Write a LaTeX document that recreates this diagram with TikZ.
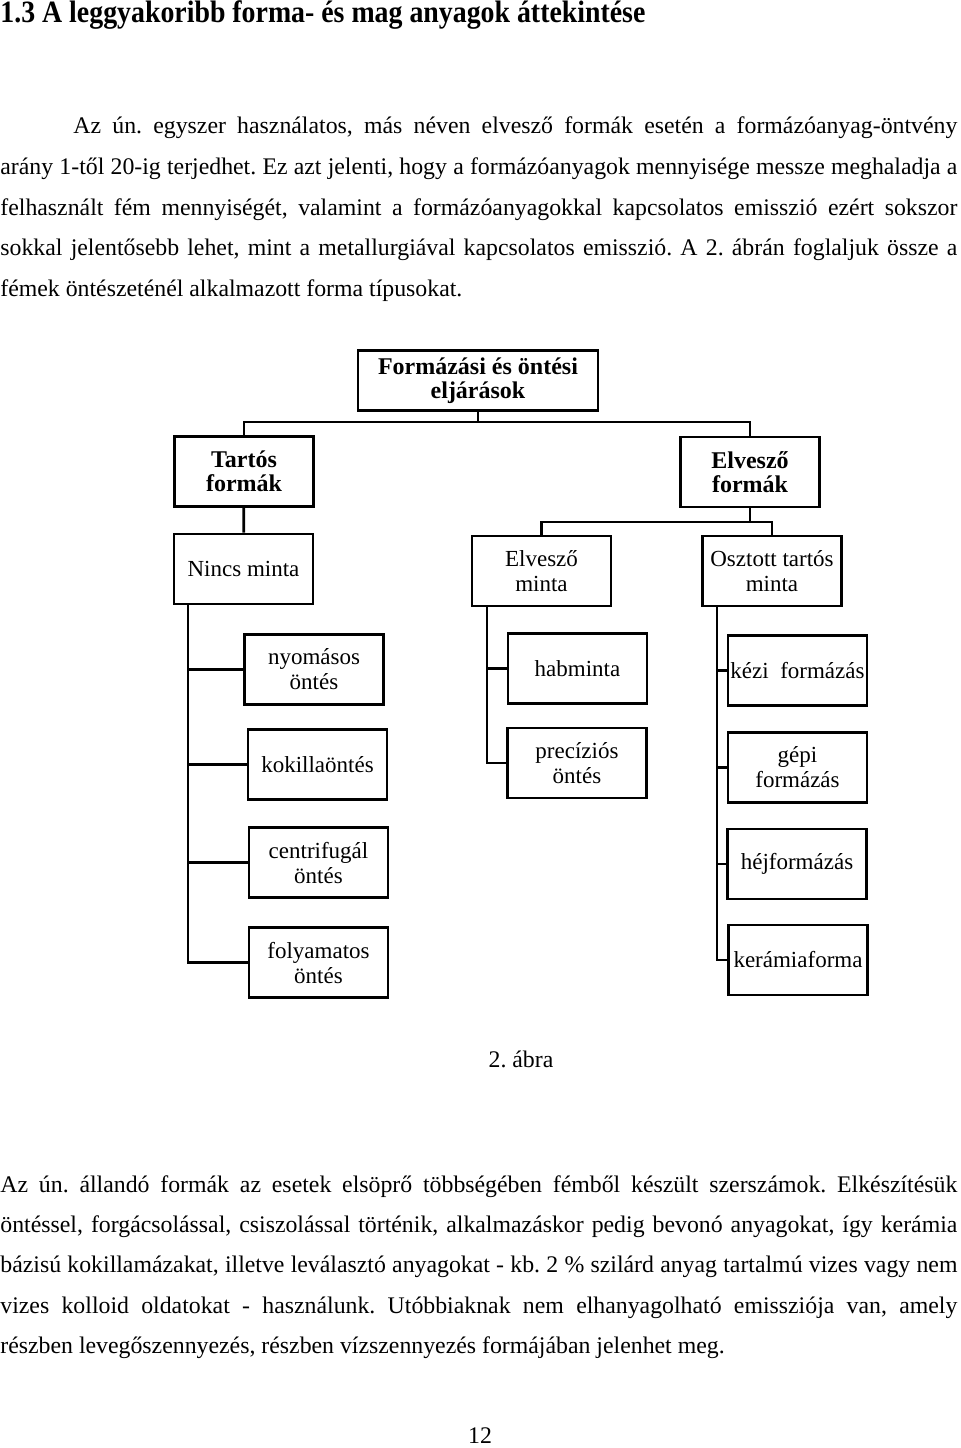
\documentclass[tikz,border=0pt]{standalone}
\usepackage{fontspec}
\setmainfont{Liberation Serif}
\usepackage{graphicx}
\usepackage{tikz}
\usetikzlibrary{positioning}
\frenchspacing
\newcommand{\jline}[2][478.5pt]{\makebox[#1][s]{#2}}

\begin{document}
\begin{tikzpicture}[x=0.5pt, y=-0.5pt,
	every node/.style={font=\fontsize{11.5}{12.5}\selectfont},
	txt/.style={anchor=base west, inner sep=0pt, font=\fontsize{11.9}{15}\selectfont},
	box/.style={draw, line width=1.4pt, align=center, minimum width=69.5pt, minimum height=35pt, inner sep=1pt},
	head/.style={box, font=\fontsize{12}{12}\selectfont\bfseries},
	conn/.style={line width=1.4pt}]
	\useasboundingbox (0,0) rectangle (960,1448);
	% cim es elso bekezdes
	\node[txt, font=\fontsize{15.5}{17}\selectfont\bfseries] (cim) at (0,22) {\resizebox{322.5pt}{\height}{1.3 A leggyakoribb forma- és mag anyagok áttekintése}};
	\node[txt] (p1a) at (73,133) {\jline[442pt]{Az ún. egyszer használatos, más néven elvesző formák esetén a formázóanyag-öntvény}};
	\node[txt] (p1b) at (0,174) {\jline{arány 1-től 20-ig terjedhet. Ez azt jelenti, hogy a formázóanyagok mennyisége messze meghaladja a}};
	\node[txt] (p1c) at (0,215) {\jline{felhasznált fém mennyiségét, valamint a formázóanyagokkal kapcsolatos emisszió ezért sokszor}};
	\node[txt] (p1d) at (0,255) {\jline{sokkal jelentősebb lehet, mint a metallurgiával kapcsolatos emisszió. A 2. ábrán foglaljuk össze a}};
	\node[txt] (p1e) at (0,296) {fémek öntészeténél alkalmazott forma típusokat.};
	% az abra dobozai
	\node[head, minimum width=120pt, minimum height=30pt] (form) at (478,380.5) {Formázási és öntési\\eljárások};
	\node[head] (tartos) at (244,471.5) {Tartós\\formák};
	\node[head] (elvf) at (750,472) {Elvesző\\formák};
	\node[box] (nincs) at (243.5,569) {Nincs minta};
	\node[box] (elvm) at (541.5,571) {Elvesző\\minta};
	\node[box] (oszt) at (772,571) {Osztott tartós\\minta};
	\node[box] (nyom) at (314,669.5) {nyomásos\\öntés};
	\node[box] (kokil) at (317.5,764.5) {kokillaöntés};
	\node[box] (centri) at (318.5,862.5) {centrifugál\\öntés};
	\node[box] (folyam) at (318.5,962.5) {folyamatos\\öntés};
	\node[box] (hab) at (577.5,668.5) {habminta};
	\node[box] (prec) at (577,763) {precíziós\\öntés};
	\node[box] (kezi) at (797.5,670.5) {kézi\ \ formázás};
	\node[box] (gepi) at (797.5,767.5) {gépi\\formázás};
	\node[box] (hej) at (797,864) {héjformázás};
	\node[box] (keram) at (798,960) {kerámiaforma};
	% osszekotok
	\coordinate (sp1) at (478,422);
	\coordinate (sp2) at (750,522);
	\coordinate (trA) at (188,0);
	\coordinate (trB) at (487,0);
	\coordinate (trC) at (717,0);
	\draw[conn] (form) -- (sp1);
	\draw[conn] (sp1) -| (tartos);
	\draw[conn] (sp1) -| (elvf);
	\draw[conn] (tartos) -- (nincs);
	\draw[conn] (elvf) -- (sp2);
	\draw[conn] (sp2) -| (elvm);
	\draw[conn] (sp2) -| (oszt);
	\draw[conn] (trA |- nincs.south) |- (folyam.west);
	\foreach \b in {nyom,kokil,centri}
		\draw[conn] (\b.west) -- (trA |- \b.west);
	\draw[conn] (trB |- elvm.south) |- (prec.west);
	\draw[conn] (hab.west) -- (trB |- hab.west);
	\draw[conn] (trC |- oszt.south) |- (keram.west);
	\foreach \b in {kezi,gepi,hej}
		\draw[conn] (\b.west) -- (trC |- \b.west);
	% abrafelirat, masodik bekezdes
	\node[txt, anchor=base] (abra) at (521,1067) {2. ábra};
	\node[txt] (p2a) at (0,1192) {\jline{Az ún. állandó formák az esetek elsöprő többségében fémből készült szerszámok. Elkészítésük}};
	\node[txt] (p2b) at (0,1232) {\jline{öntéssel, forgácsolással, csiszolással történik, alkalmazáskor pedig bevonó anyagokat, így kerámia}};
	\node[txt] (p2c) at (0,1272) {\jline{bázisú kokillamázakat, illetve leválasztó anyagokat - kb. 2 \% szilárd anyag tartalmú vizes vagy nem}};
	\node[txt] (p2d) at (0,1313) {\jline{vizes kolloid oldatokat - használunk. Utóbbiaknak nem elhanyagolható emissziója van, amely}};
	\node[txt] (p2e) at (0,1353) {részben levegőszennyezés, részben vízszennyezés formájában jelenhet meg.};
	\node[txt, anchor=base] (oldal) at (480,1443) {12};
\end{tikzpicture}
\end{document}
